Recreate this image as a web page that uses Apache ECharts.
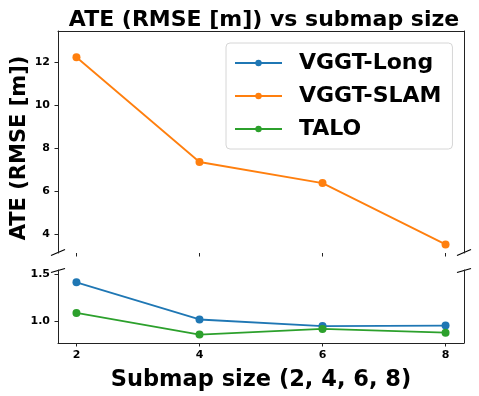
<!DOCTYPE html>
<html>
<head>
<meta charset="utf-8">
<script src="https://cdn.jsdelivr.net/npm/echarts@6/dist/echarts.min.js"></script>
<style>
  html, body { margin: 0; padding: 0; background: #fff; }
  #main { width: 479px; height: 396px; }
</style>
</head>
<body>
<div id="main"></div>
<script>
var xValues = [2, 4, 6, 8];
var vggtLong = [1.415, 1.02, 0.95, 0.955];
var vggtSlam = [12.22, 7.35, 6.37, 3.52];
var talo = [1.09, 0.86, 0.92, 0.88];
var topTicks = [4, 6, 8, 10, 12];
var bottomTicks = [1.0, 1.5];

var myChart = echarts.init(document.getElementById('main'));
var font = 'DejaVu Sans';
var spine = '#222';

function pairs(ys) {
  var out = [];
  for (var i = 0; i < xValues.length; i++) out.push([xValues[i], ys[i]]);
  return out;
}

var tickLabel = { fontFamily: font, fontWeight: 'bold', fontSize: 11, color: '#000' };

// broken-axis diagonal marks
var L = 58, R = 464, yTop = 252.5, yBot = 270.5;
function brk(x, y, dy) {
  return { type: 'line', shape: { x1: x - 7, y1: y + dy, x2: x + 7, y2: y - dy },
           style: { stroke: '#000', lineWidth: 1.2 } };
}

var option = {
  backgroundColor: '#fff',
  animation: false,
  title: {
    text: 'ATE (RMSE [m]) vs submap size',
    left: 259, top: 4, textAlign: 'center',
    textStyle: { fontFamily: font, fontWeight: 'bold', fontSize: 22, color: '#000' }
  },
  legend: {
    orient: 'vertical',
    left: 226, top: 43,
    padding: [9, 11, 9, 8],
    itemGap: 11,
    itemWidth: 47, itemHeight: 8,
    backgroundColor: 'rgba(255,255,255,0.8)',
    borderColor: '#d6d6d6', borderWidth: 1, borderRadius: 4,
    textStyle: { fontFamily: font, fontWeight: 'bold', fontSize: 22, color: '#000', padding: [0, 0, 0, 12] },
    data: ['VGGT-Long', 'VGGT-SLAM', 'TALO']
  },
  grid: [
    { left: L, right: 479 - R, top: 31, height: 222 },
    { left: L, right: 479 - R, top: 270, height: 73 }
  ],
  xAxis: [
    { type: 'value', gridIndex: 0, min: 1.7, max: 8.3, position: 'bottom',
      axisLine: { show: false }, splitLine: { show: false },
      axisTick: { show: true, length: 3.5, customValues: xValues, lineStyle: { color: spine } },
      axisLabel: { show: false } },
    { type: 'value', gridIndex: 0, min: 1.7, max: 8.3, position: 'top',
      axisLine: { show: true, onZero: false, lineStyle: { color: spine, width: 1 } },
      splitLine: { show: false }, axisTick: { show: false }, axisLabel: { show: false } },
    { type: 'value', gridIndex: 1, min: 1.7, max: 8.3, position: 'bottom',
      name: 'Submap size (2, 4, 6, 8)', nameLocation: 'middle', nameGap: 26,
      nameTextStyle: { fontFamily: font, fontWeight: 'bold', fontSize: 22.5, color: '#000' },
      axisLine: { show: true, onZero: false, lineStyle: { color: spine, width: 1 } },
      splitLine: { show: false },
      axisTick: { show: true, length: 3.5, customValues: xValues, lineStyle: { color: spine } },
      axisLabel: Object.assign({ customValues: xValues, margin: 7 }, tickLabel) }
  ],
  yAxis: [
    { type: 'value', gridIndex: 0, min: 3.12, max: 13.44, position: 'left',
      axisLine: { show: true, onZero: false, lineStyle: { color: spine, width: 1 } },
      splitLine: { show: false },
      axisTick: { show: true, length: 3.5, customValues: topTicks, lineStyle: { color: spine } },
      axisLabel: Object.assign({ customValues: topTicks, margin: 8 }, tickLabel) },
    { type: 'value', gridIndex: 0, min: 3.12, max: 13.44, position: 'right',
      axisLine: { show: true, onZero: false, lineStyle: { color: spine, width: 1 } },
      splitLine: { show: false }, axisTick: { show: false }, axisLabel: { show: false } },
    { type: 'value', gridIndex: 1, min: 0.77, max: 1.546, position: 'left',
      axisLine: { show: true, onZero: false, lineStyle: { color: spine, width: 1 } },
      splitLine: { show: false },
      axisTick: { show: true, length: 3.5, customValues: bottomTicks, lineStyle: { color: spine } },
      axisLabel: Object.assign({ customValues: bottomTicks, margin: 8,
        formatter: function (v) { return v.toFixed(1); } }, tickLabel) },
    { type: 'value', gridIndex: 1, min: 0.77, max: 1.546, position: 'right',
      axisLine: { show: true, onZero: false, lineStyle: { color: spine, width: 1 } },
      splitLine: { show: false }, axisTick: { show: false }, axisLabel: { show: false } }
  ],
  series: [
    { name: 'VGGT-Long', type: 'line', xAxisIndex: 2, yAxisIndex: 2, data: pairs(vggtLong),
      symbol: 'circle', symbolSize: 8, color: '#1f77b4', lineStyle: { width: 1.8 } },
    { name: 'VGGT-SLAM', type: 'line', xAxisIndex: 0, yAxisIndex: 0, data: pairs(vggtSlam),
      symbol: 'circle', symbolSize: 8, color: '#ff7f0e', lineStyle: { width: 1.8 } },
    { name: 'TALO', type: 'line', xAxisIndex: 2, yAxisIndex: 2, data: pairs(talo),
      symbol: 'circle', symbolSize: 8, color: '#2ca02c', lineStyle: { width: 1.8 } }
  ],
  graphic: [
    { type: 'text', x: 20, y: 148, rotation: Math.PI / 2,
      style: { text: 'ATE (RMSE [m])', fontFamily: font, fontWeight: 'bold', fontSize: 21,
               fill: '#000', align: 'center', verticalAlign: 'middle' } },
    brk(L, yTop, 3), brk(R, yTop, 3), brk(L, yBot, 2), brk(R, yBot, 2)
  ]
};
myChart.setOption(option);
</script>
</body>
</html>
